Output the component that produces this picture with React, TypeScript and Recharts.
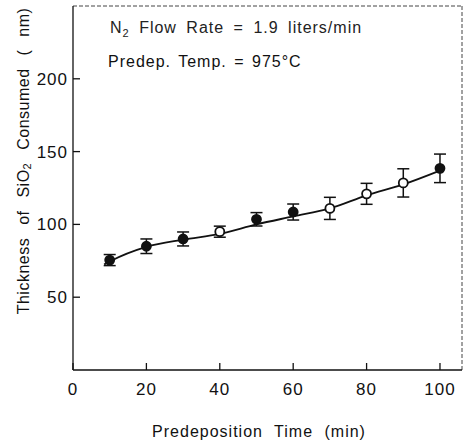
import { ComposedChart, Line, XAxis, YAxis, ErrorBar, ReferenceLine } from 'recharts';

// predeposition time (min)
const times = [8.5, 10, 20, 30, 40, 50, 60, 70, 80, 90, 100];
// fitted curve drawn through the data
const fitCurve = [72.5, 74.5, 84.5, 89.5, 93.5, 100, 105.5, 111, 120, 127.5, 137];
// measured SiO2 thickness (nm), first slot is the curve's start only
const thickness = [null, 75.5, 85, 90, 95, 103.5, 108.5, 111, 121, 128.5, 138.5];
const errors = [null, 3.8, 5, 4.8, 3.8, 4.6, 5.5, 7.6, 7.2, 9.7, 9.8];
const openMarker = [false, false, false, false, true, false, false, true, true, true, false];

const xTicks = [0, 20, 40, 60, 80, 100];
const yTicks = [50, 100, 150, 200];

const data = times.map((t, i) => ({
  time: t,
  fit: fitCurve[i],
  thickness: thickness[i],
  err: errors[i],
  open: openMarker[i],
}));

const FONT = '"Liberation Sans", Arial, sans-serif';

const XTick = ({ x, y, payload }: any) => (
  <g>
    <line x1={x} y1={y} x2={x} y2={y - 7} stroke="#111" strokeWidth={1.3} />
    <text x={x} y={y + 25} textAnchor="middle" fontSize={17} letterSpacing={1} fontFamily={FONT} fill="#111">
      {payload.value}
    </text>
  </g>
);

const YTick = ({ x, y, payload }: any) => (
  <g>
    <line x1={x} y1={y} x2={x + 7} y2={y} stroke="#111" strokeWidth={1.3} />
    <text x={x - 5} y={y + 6} textAnchor="end" fontSize={17} letterSpacing={1} fontFamily={FONT} fill="#111">
      {payload.value}
    </text>
  </g>
);

const Marker = (props: any) => {
  const { cx, cy, payload } = props;
  if (payload.thickness == null) return <g />;
  return (
    <circle
      cx={cx}
      cy={cy}
      r={4.5}
      fill={payload.open ? '#fff' : '#111'}
      stroke="#111"
      strokeWidth={1.8}
    />
  );
};

export default function App() {
  return (
    <div style={{ position: 'absolute', left: 0, top: 0, background: '#fff' }}>
      <ComposedChart width={471} height={444} data={data} margin={{ top: 6, right: 9, left: 0, bottom: 0 }}>
        <XAxis
          dataKey="time"
          type="number"
          domain={[0, 106]}
          ticks={xTicks}
          tickSize={0}
          tickMargin={0}
          tickLine={false}
          tick={<XTick />}
          height={74}
          axisLine={{ stroke: '#111', strokeWidth: 1.3 }}
        />
        <YAxis
          type="number"
          domain={[0, 250]}
          ticks={yTicks}
          tickSize={0}
          tickMargin={0}
          tickLine={false}
          tick={<YTick />}
          width={73}
          axisLine={{ stroke: '#111', strokeWidth: 1.3 }}
        />
        <ReferenceLine y={250} stroke="#444" strokeDasharray="4 2" />
        <ReferenceLine x={106} stroke="#444" strokeDasharray="4 2" />
        <Line
          dataKey="fit"
          type="monotone"
          stroke="#111"
          strokeWidth={1.8}
          dot={false}
          activeDot={false}
          isAnimationActive={false}
        />
        <Line
          dataKey="thickness"
          stroke="none"
          dot={<Marker />}
          activeDot={false}
          isAnimationActive={false}
        >
          <ErrorBar dataKey="err" width={6} stroke="#111" strokeWidth={1.5} direction="y" />
        </Line>
        <text x={110} y={33} fontSize={16} letterSpacing={1} fontFamily={FONT} fill="#222" style={{ wordSpacing: 4 }}>
          N<tspan dy={4} fontSize={11}>2</tspan>
          <tspan dy={-4}> Flow Rate = 1.9 liters/min</tspan>
        </text>
        <text x={108} y={67} fontSize={16} letterSpacing={1} fontFamily={FONT} fill="#111" style={{ wordSpacing: 2 }}>
          Predep. Temp. = 975°C
        </text>
        <text
          x={23}
          y={161}
          transform="rotate(-90 23 161)"
          textAnchor="middle"
          dominantBaseline="central"
          fontSize={16}
          letterSpacing={0.5}
          fontFamily={FONT}
          fill="#111"
          style={{ wordSpacing: 8 }}
        >
          Thickness of SiO<tspan dy={4} fontSize={11}>2</tspan>
          <tspan dy={-4}> Consumed ( nm)</tspan>
        </text>
        <text
          x={259}
          y={437}
          textAnchor="middle"
          fontSize={16}
          letterSpacing={1}
          fontFamily={FONT}
          fill="#111"
          style={{ wordSpacing: 6 }}
        >
          Predeposition Time (min)
        </text>
      </ComposedChart>
    </div>
  );
}
